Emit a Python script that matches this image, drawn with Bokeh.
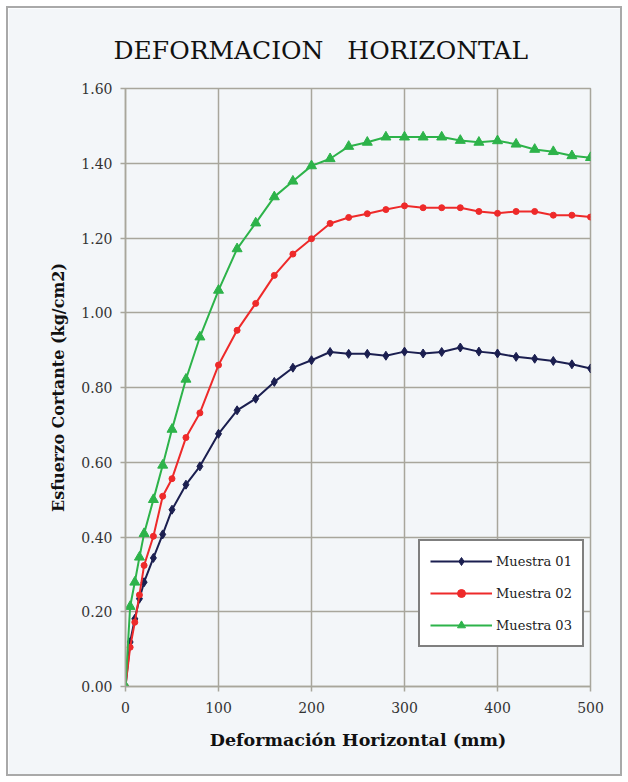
from bokeh.plotting import figure
from bokeh.models import FixedTicker, Range1d
from bokeh.embed import file_html
from bokeh.resources import INLINE

# ---- data ----
deformacion = [0, 5, 10, 15, 20, 30, 40, 50, 65, 80, 100, 120, 140, 160, 180, 200,
               220, 240, 260, 280, 300, 320, 340, 360, 380, 400, 420, 440, 460, 480, 500]
muestra_01 = [0, 0.119, 0.181, 0.235, 0.279, 0.344, 0.407, 0.473, 0.540, 0.589, 0.676,
              0.739, 0.770, 0.815, 0.853, 0.873, 0.895, 0.890, 0.890, 0.885, 0.896,
              0.891, 0.895, 0.907, 0.896, 0.891, 0.882, 0.877, 0.871, 0.862, 0.851]
muestra_02 = [0, 0.105, 0.172, 0.245, 0.324, 0.402, 0.509, 0.556, 0.666, 0.732, 0.860,
              0.953, 1.025, 1.100, 1.157, 1.198, 1.239, 1.255, 1.265, 1.276, 1.286,
              1.281, 1.281, 1.281, 1.271, 1.266, 1.271, 1.271, 1.261, 1.261, 1.256]
muestra_03 = [0, 0.214, 0.279, 0.346, 0.409, 0.500, 0.592, 0.688, 0.822, 0.935, 1.060,
              1.171, 1.240, 1.310, 1.352, 1.393, 1.412, 1.445, 1.456, 1.470, 1.470,
              1.470, 1.470, 1.461, 1.456, 1.460, 1.451, 1.437, 1.431, 1.420, 1.415]
series_names = ["Muestra 01", "Muestra 02", "Muestra 03"]
x_ticks = [0, 100, 200, 300, 400, 500]
y_ticks = [0.0, 0.2, 0.4, 0.6, 0.8, 1.0, 1.2, 1.4, 1.6]

title_text = "DEFORMACION\u00a0\u00a0 HORIZONTAL"
x_title = "Deformación Horizontal (mm)"
y_title = "Esfuerzo Cortante (kg/cm2)"

colors = ["#1b1f50", "#ee2a2a", "#2db34a"]
markers = ["diamond", "circle", "triangle"]
msizes = [9, 6, 10]

SERIF = "DejaVu Serif"
GRID = "#a8a69c"
BG = "#f3f6f9"

p = figure(width=616, height=770, output_backend="svg", toolbar_location=None,
           x_range=Range1d(0, 500), y_range=Range1d(0, 1.6),
           min_border_left=117, min_border_right=34, min_border_top=80,
           min_border_bottom=92)
p.styles = {"margin": "6px 0 0 6px", "border": "2px solid #a9a9a9"}
p.background_fill_color = BG
p.border_fill_color = BG
p.outline_line_color = GRID
p.outline_line_width = 1.5

p.title.text = title_text
p.title.align = "left"
p.title.offset = -12
p.title.vertical_align = "bottom"
p.title.standoff = 48
p.title.text_font = SERIF
p.title.text_font_size = "25px"
p.title.text_font_style = "normal"
p.title.text_color = "#111111"

for ax in (p.xaxis[0], p.yaxis[0]):
    ax.axis_line_color = GRID
    ax.axis_line_width = 1.5
    ax.major_tick_line_color = GRID
    ax.major_tick_line_width = 1.5
    ax.major_tick_out = 5
    ax.major_tick_in = 0
    ax.minor_tick_line_color = None
    ax.major_label_text_font = SERIF
    ax.major_label_text_font_size = "14px"
    ax.major_label_text_color = "#333333"
    ax.axis_label_text_font = SERIF
    ax.axis_label_text_font_style = "bold"
    ax.axis_label_text_color = "#111111"

p.xaxis.ticker = FixedTicker(ticks=x_ticks)
p.yaxis.ticker = FixedTicker(ticks=y_ticks)
p.xaxis.major_label_overrides = {t: str(t) for t in x_ticks}
p.yaxis.major_label_overrides = {t: f"{t:.2f}" for t in y_ticks}
p.xaxis.major_label_standoff = 10
p.yaxis.major_label_standoff = 8
p.xaxis.axis_label = x_title
p.yaxis.axis_label = y_title
p.xaxis.axis_label_text_font_size = "17.5px"
p.yaxis.axis_label_text_font_size = "16px"
p.xaxis.axis_label_standoff = 14
p.yaxis.axis_label_standoff = 10

p.xgrid.grid_line_color = GRID
p.ygrid.grid_line_color = GRID
p.xgrid.grid_line_width = 1.5
p.ygrid.grid_line_width = 1.5

for ys, name, c, m, s in zip([muestra_01, muestra_02, muestra_03], series_names, colors, markers, msizes):
    p.line(deformacion, ys, line_color=c, line_width=2, legend_label=name)
    p.scatter(deformacion, ys, marker=m, size=s, fill_color=c, line_color=c, legend_label=name)

leg = p.legend[0]
leg.location = (293, 39)
leg.border_line_color = "black"
leg.border_line_width = 2
leg.background_fill_color = "white"
leg.background_fill_alpha = 1
leg.label_text_font = SERIF
leg.label_text_font_size = "13px"
leg.label_text_color = "#222222"
leg.glyph_width = 62
leg.glyph_height = 20
leg.spacing = 12
leg.padding = 10
leg.margin = 0
leg.label_standoff = 4

open("out.html", "w").write(file_html(p, INLINE))
